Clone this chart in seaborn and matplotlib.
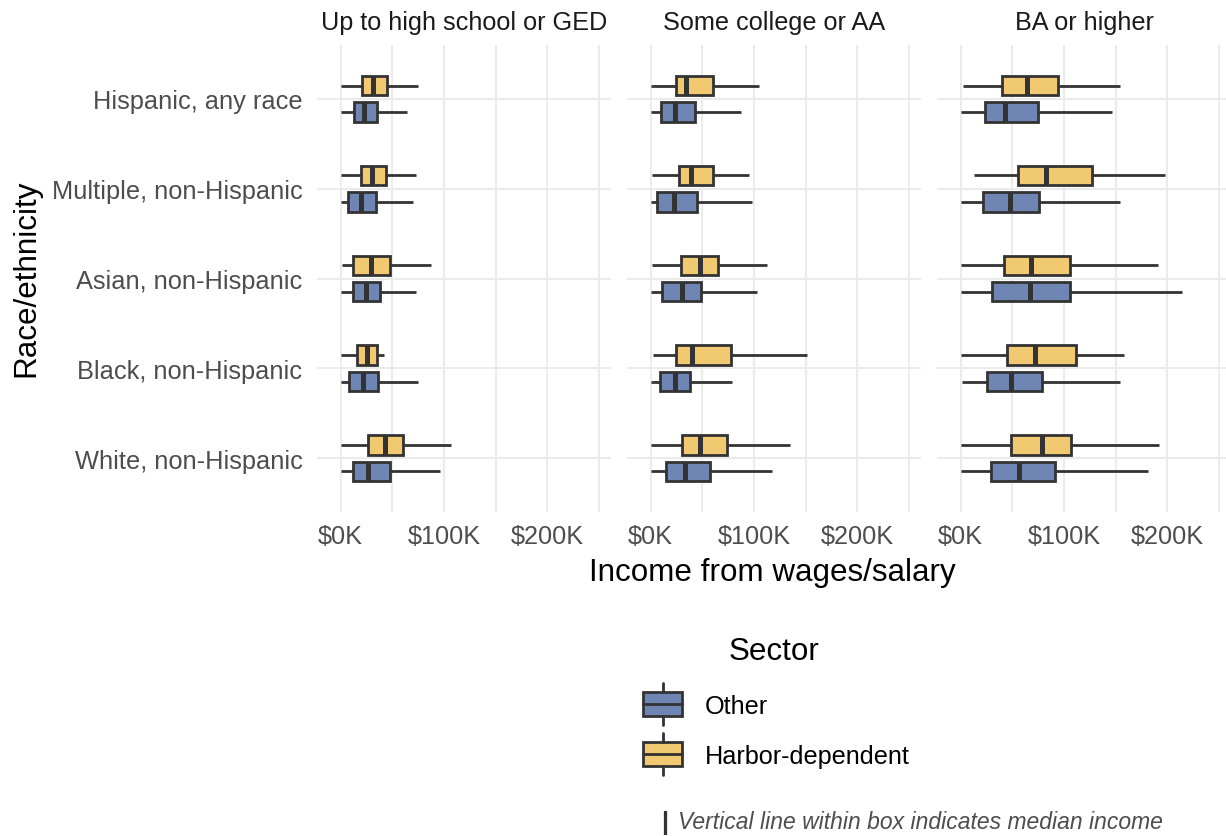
import numpy as np
import pandas as pd
import matplotlib
matplotlib.use("Agg")
import matplotlib.pyplot as plt
from matplotlib.patches import Rectangle
from matplotlib.lines import Line2D
import seaborn as sns

# ---------------- data (thousands of dollars): [whisker low, Q1, median, Q3, whisker high]
races = ["Hispanic, any race", "Multiple, non-Hispanic", "Asian, non-Hispanic",
         "Black, non-Hispanic", "White, non-Hispanic"]
education = ["Up to high school or GED", "Some college or AA", "BA or higher"]
sectors = ["Harbor-dependent", "Other"]

hs_harbor = [[0, 20.3, 31.3, 44.5, 75.2],
             [0, 20.0, 30.7, 43.6, 72.6],
             [1.3, 11.9, 29.4, 48.1, 87.4],
             [0, 16.1, 25.5, 34.8, 41.9],
             [0, 26.1, 42.9, 60.0, 106.5]]
hs_other = [[0, 12.9, 22.6, 34.8, 63.9],
            [0, 6.8, 20.0, 33.9, 70.0],
            [0, 11.6, 24.8, 37.8, 72.6],
            [0, 8.4, 21.3, 36.5, 74.5],
            [0, 11.9, 26.8, 47.4, 96.5]]
sc_harbor = [[0, 24.2, 34.2, 60.0, 105.2],
             [1.0, 27.4, 38.7, 60.6, 95.2],
             [1.3, 29.0, 47.7, 65.5, 112.3],
             [2.3, 24.5, 40.0, 77.7, 151.6],
             [0, 30.6, 47.4, 73.9, 134.8]]
sc_other = [[0, 10.0, 23.2, 42.6, 87.7],
            [0, 6.5, 22.9, 44.8, 98.4],
            [0, 10.6, 30.0, 48.7, 102.6],
            [0, 8.7, 23.2, 38.4, 78.7],
            [0, 14.8, 32.9, 57.1, 117.1]]
ba_harbor = [[2.6, 39.7, 64.5, 94.2, 154.2],
             [12.6, 55.8, 82.3, 126.8, 197.7],
             [0.6, 42.3, 67.7, 105.5, 191.3],
             [0.6, 44.5, 71.9, 111.3, 158.1],
             [0, 48.4, 79.0, 107.1, 191.6]]
ba_other = [[0, 23.5, 43.2, 74.5, 146.8],
            [0, 21.3, 48.1, 75.8, 154.2],
            [0, 30.6, 67.1, 105.5, 213.9],
            [1.0, 25.5, 49.0, 79.0, 154.2],
            [0, 29.4, 56.5, 91.3, 181.3]]

x_ticks = [0, 100, 200]
x_tick_labels = ["$0K", "$100K", "$200K"]

# long-form table: five values per group reproduce exactly the five-number summary
stats = {education[0]: (hs_harbor, hs_other),
         education[1]: (sc_harbor, sc_other),
         education[2]: (ba_harbor, ba_other)}
rows = []
for edu, (harb, oth) in stats.items():
    for sector, arr in zip(sectors, (harb, oth)):
        for race, vals in zip(races, arr):
            for v in vals:
                rows.append({"education": edu, "race": race, "sector": sector, "income": v})
df = pd.DataFrame(rows)

# ---------------- style
sns.set_theme(style="white")
plt.rcParams["font.family"] = ["Liberation Sans", "DejaVu Sans"]

BLUE = "#6F86B4"
YELLOW = "#F0C971"
EDGE = "#333333"
GRID = "#EBEBEB"
palette = {"Harbor-dependent": YELLOW, "Other": BLUE}
LW = 2.0

W, H = 1226, 837
fig = plt.figure(figsize=(W / 100, H / 100), dpi=100)


def fx(px):
    return px / W


def fy(py):
    return 1 - py / H


panel_left = [317, 627, 937]
panel_w = 294
top, bottom = 46, 513

for i, edu in enumerate(education):
    ax = fig.add_axes([fx(panel_left[i]), fy(bottom), panel_w / W, (bottom - top) / H])
    sub = df[df["education"] == edu]
    sns.boxplot(data=sub, x="income", y="race", hue="sector", order=races,
                hue_order=sectors, palette=palette, saturation=1,
                whis=(0, 100), width=0.59, gap=0.27, linecolor=EDGE,
                linewidth=LW, showcaps=False, showfliers=False,
                medianprops={"linewidth": 3.6}, legend=False, ax=ax)
    ax.set_xlim(-22.8, 261.5)
    ax.set_ylim(4.6, -0.6)
    ax.set_xlabel("")
    ax.set_ylabel("")
    ax.set_xticks(x_ticks)
    ax.set_xticklabels(x_tick_labels)
    ax.set_xticks([50, 150, 250], minor=True)
    ax.set_axisbelow(True)
    ax.xaxis.grid(True, which="both", color=GRID, linewidth=1.5)
    ax.yaxis.grid(True, which="major", color=GRID, linewidth=1.5)
    ax.tick_params(axis="both", which="both", length=0)
    ax.tick_params(axis="x", labelsize=18.2, labelcolor="#4D4D4D", pad=9)
    ax.tick_params(axis="y", labelsize=18.3, labelcolor="#4D4D4D", pad=10.5)
    if i > 0:
        ax.tick_params(axis="y", labelleft=False)
    for s in ax.spines.values():
        s.set_visible(False)
    ax.patch.set_alpha(0)
    cx = panel_left[i] + panel_w / 2
    fig.text(fx(cx), fy(30), edu, ha="center", va="baseline", fontsize=18.2, color="#1A1A1A")

# axis titles
fig.text(fx(772), fy(573), "Income from wages/salary", ha="center", va="center",
         fontsize=22.6, color="black")
fig.text(fx(26), fy(278), "Race/ethnicity", ha="center", va="center", rotation=90,
         fontsize=22.6, color="black")

# legend
fig.text(fx(729), fy(652), "Sector", ha="left", va="center", fontsize=22.6, color="black")
legend_items = [("Other", BLUE, 705), ("Harbor-dependent", YELLOW, 755)]
for label, col, cy in legend_items:
    x0, x1 = 643, 682
    fig.add_artist(Rectangle((fx(x0), fy(cy + 12)), fx(x1) - fx(x0), fy(cy - 12) - fy(cy + 12),
                             transform=fig.transFigure, facecolor=col, edgecolor=EDGE,
                             linewidth=LW))
    fig.add_artist(Line2D([fx(x0), fx(x1)], [fy(cy), fy(cy)], transform=fig.transFigure,
                          color=EDGE, linewidth=LW))
    xm = (x0 + x1) / 2
    fig.add_artist(Line2D([fx(xm), fx(xm)], [fy(cy - 21), fy(cy - 12)],
                          transform=fig.transFigure, color=EDGE, linewidth=LW))
    fig.add_artist(Line2D([fx(xm), fx(xm)], [fy(cy + 12), fy(cy + 21)],
                          transform=fig.transFigure, color=EDGE, linewidth=LW))
    fig.text(fx(705), fy(cy + 2), label, ha="left", va="center", fontsize=18.2, color="black")

# caption
fig.text(fx(665), fy(823), "|", ha="center", va="center", fontsize=18, color="#333333",
         fontweight="bold")
fig.text(fx(1163), fy(823), "Vertical line within box indicates median income",
         ha="right", va="center", fontsize=16.5, style="italic", color="#4D4D4D")

fig.savefig("out.png", dpi=100)
